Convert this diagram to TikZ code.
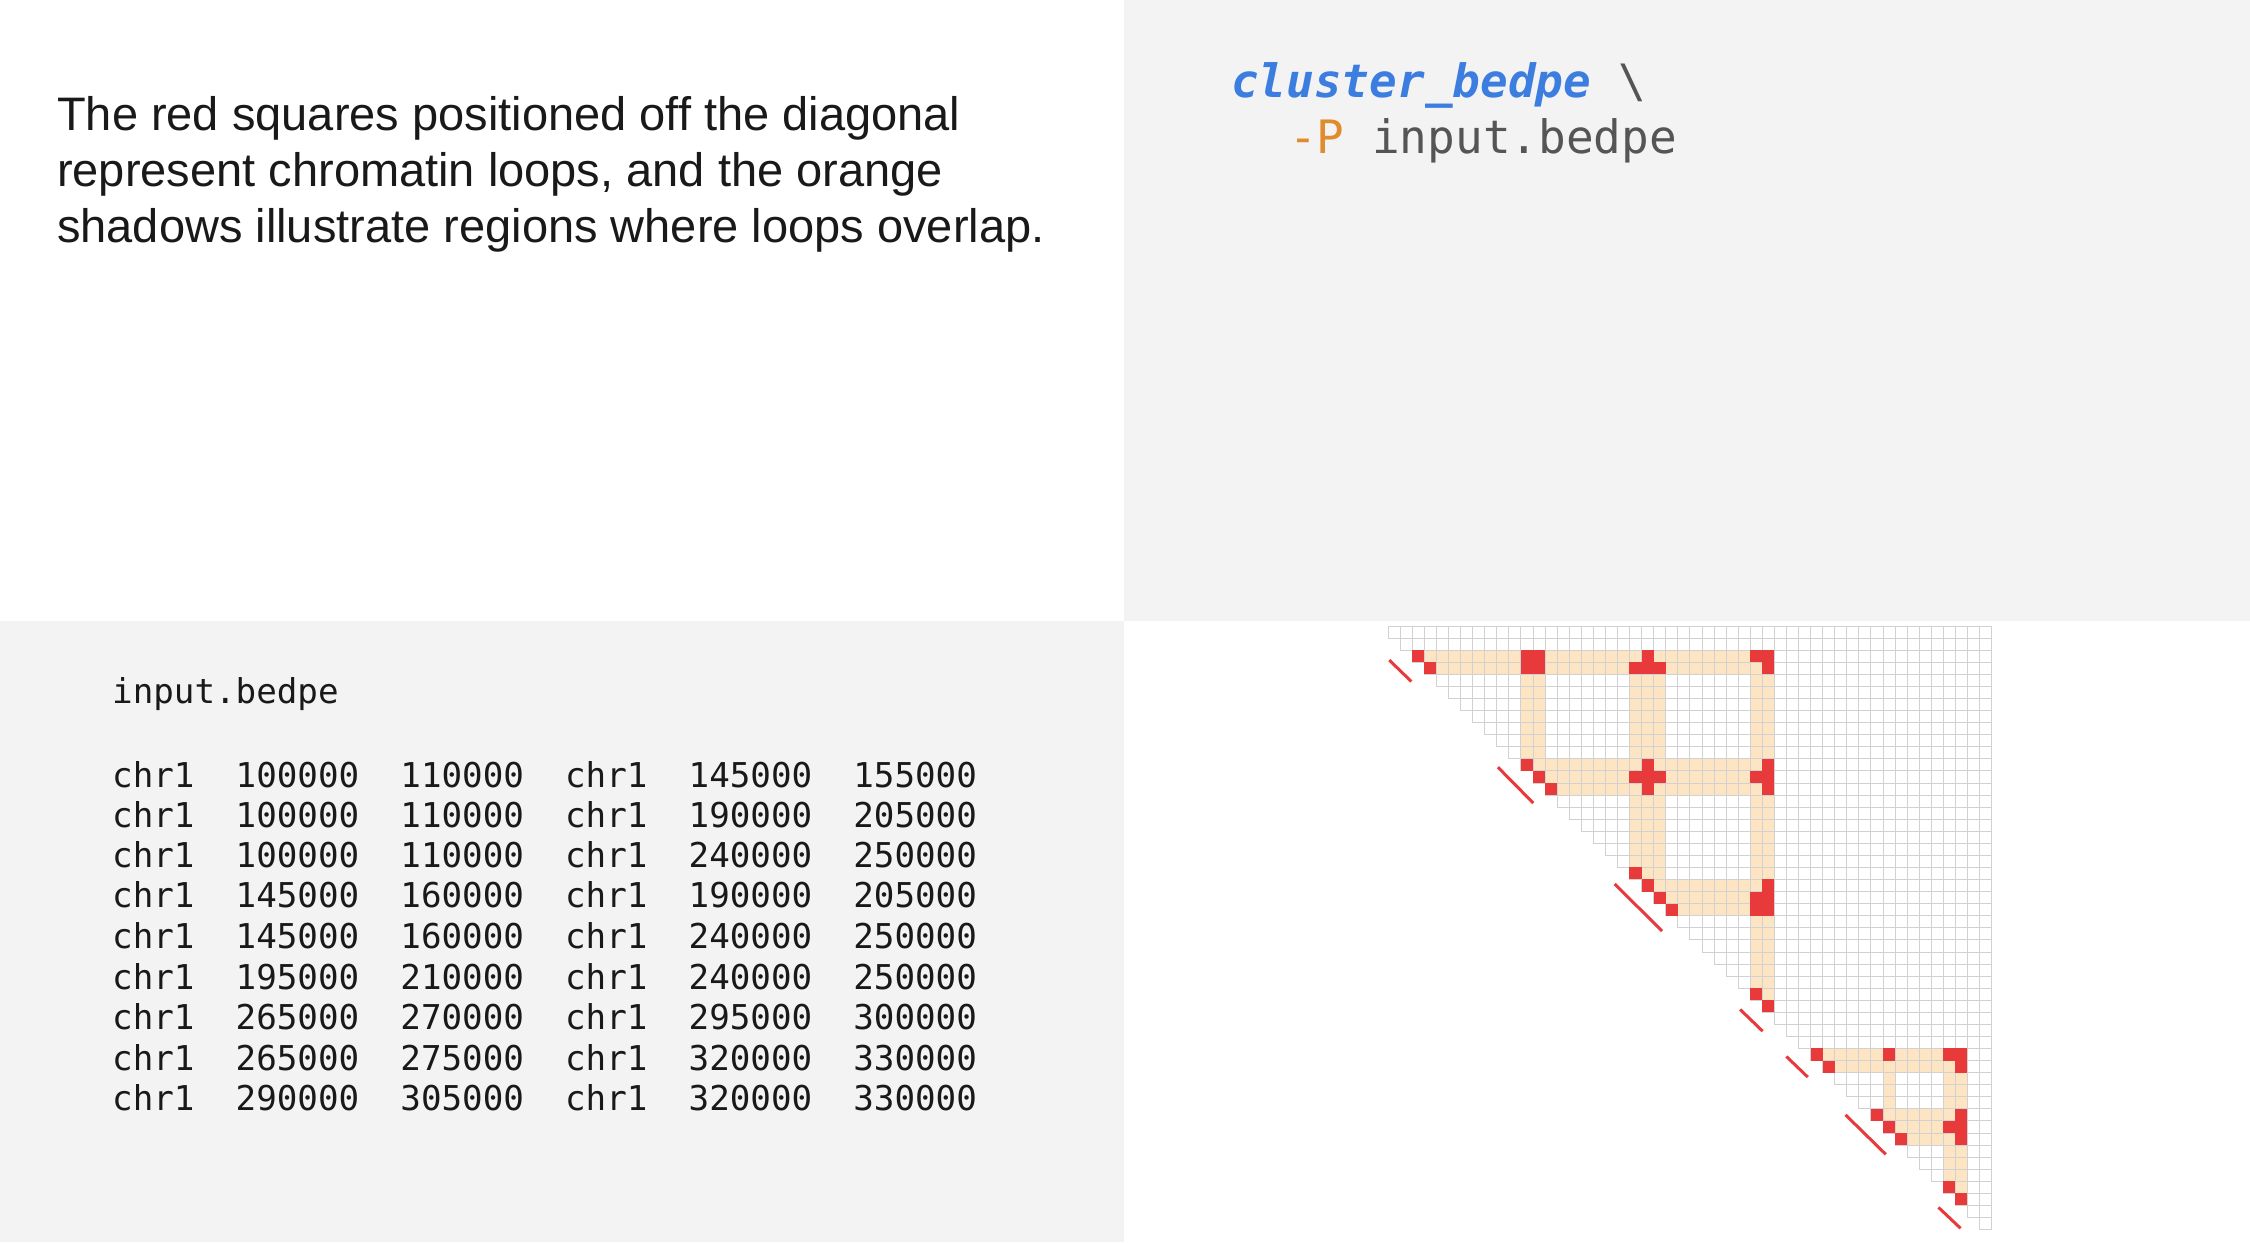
\documentclass[tikz,border=0pt]{standalone}
\usepackage{fontspec}
\setmainfont{Liberation Sans}
\newfontfamily\codefont{DejaVu Sans Mono}
\definecolor{panelgray}{HTML}{F3F3F3}
\definecolor{loopred}{HTML}{E8393B}
\definecolor{shadow}{HTML}{FDE4C3}
\definecolor{codeblue}{HTML}{3C7DE0}
\definecolor{codeorange}{HTML}{E08B2C}
\definecolor{codegray}{HTML}{555555}
\begin{document}
\begin{tikzpicture}[x=1pt,y=-1pt,
  desc/.style={anchor=west,inner sep=0pt,font=\fontsize{47}{55}\selectfont,text=black!90},
  data/.style={anchor=west,inner sep=0pt,font=\codefont\fontsize{34.2}{40}\selectfont,text=black!90},
  cmd/.style={anchor=west,inner sep=0pt,font=\codefont\fontsize{46}{54}\selectfont}]
\useasboundingbox (0,0) rectangle (2250,1242);
\fill[white] (0,0) rectangle (2250,1242);
\fill[panelgray] (1124,0) rectangle (2250,621);
\fill[panelgray] (0,621) rectangle (1124,1242);
% description
\node[desc] (t1) at (57,118) {The red squares positioned off the diagonal};
\node[desc] (t2) at (57,174) {represent chromatin loops, and the orange};
\node[desc] (t3) at (57,230) {shadows illustrate regions where loops overlap.};
% command
\node[cmd] (c1) at (1231,85) {\textcolor{codeblue}{\bfseries\itshape cluster\_bedpe}~\textcolor{codegray}{\textbackslash}};
\node[cmd] (c2) at (1289,141) {\textcolor{codeorange}{-P}~\textcolor{codegray}{input.bedpe}};
% data
\node[data] (fn) at (112,694) {input.bedpe};
\foreach \y/\a/\b/\c/\d [count=\i] in {
 774.5/100000/110000/145000/155000,
 814.7/100000/110000/190000/205000,
 854.9/100000/110000/240000/250000,
 895/145000/160000/190000/205000,
 935.5/145000/160000/240000/250000,
 976.8/195000/210000/240000/250000,
 1017/265000/270000/295000/300000,
 1057.3/265000/275000/320000/330000,
 1097.5/290000/305000/320000/330000}{
 \node[data] (row\i) at (112,\y) {chr1~~\a~~\b~~chr1~~\c~~\d};
}
% heatmap
\begin{scope}[shift={(1376,626)},x=12.07pt,y=-12.07pt]
 \foreach \ra/\rb/\ca/\cb in {2/3/3/32, 2/13/12/13, 2/23/21/23, 2/31/31/32, 11/13/12/32, 21/23/21/32,
   35/36/36/48, 35/41/42/42, 35/47/47/48, 40/42/41/48}{
   \foreach \r in {\ra,...,\rb}{
     \foreach \c in {\ca,...,\cb}{
       \ifnum\c>\r \fill[shadow] (\c,\r) rectangle (\c+1,\r+1);\fi
     }
   }
 }
 \foreach \r in {0,...,49}{
   \pgfmathtruncatemacro{\cs}{\r+1}
   \foreach \c in {\cs,...,50}{
     \draw[black!18,line width=0.8pt] (\c,\r) rectangle (\c+1,\r+1);
   }
 }
 \foreach \r/\c in {2/3,3/4,2/12,2/13,3/12,3/13,2/22,3/21,3/22,3/23,2/31,2/32,3/32,
   11/12,12/13,13/14,11/22,12/21,12/22,12/23,13/22,11/32,12/31,12/32,13/32,
   20/21,21/22,22/23,23/24,21/32,22/31,22/32,23/31,23/32,30/31,31/32,
   35/36,36/37,35/42,35/47,35/48,36/48,40/41,41/42,42/43,40/48,41/47,41/48,42/48,46/47,47/48}{
   \fill[loopred] (\c,\r) rectangle (\c+1,\r+1);
 }
 \foreach \xa/\ya/\xb/\yb in {1.1/2.83/2.93/4.6, 10.1/11.7/13.03/14.67, 19.77/21.37/23.7/25.27,
   30.17/31.77/32.03/33.57, 34/35.67/35.77/37.37, 38.9/40.5/42.23/43.77, 46.6/48.17/48.43/49.9}{
   \draw[loopred,line width=3pt] (\xa,\ya) -- (\xb,\yb);
 }
\end{scope}
\end{tikzpicture}
\end{document}
